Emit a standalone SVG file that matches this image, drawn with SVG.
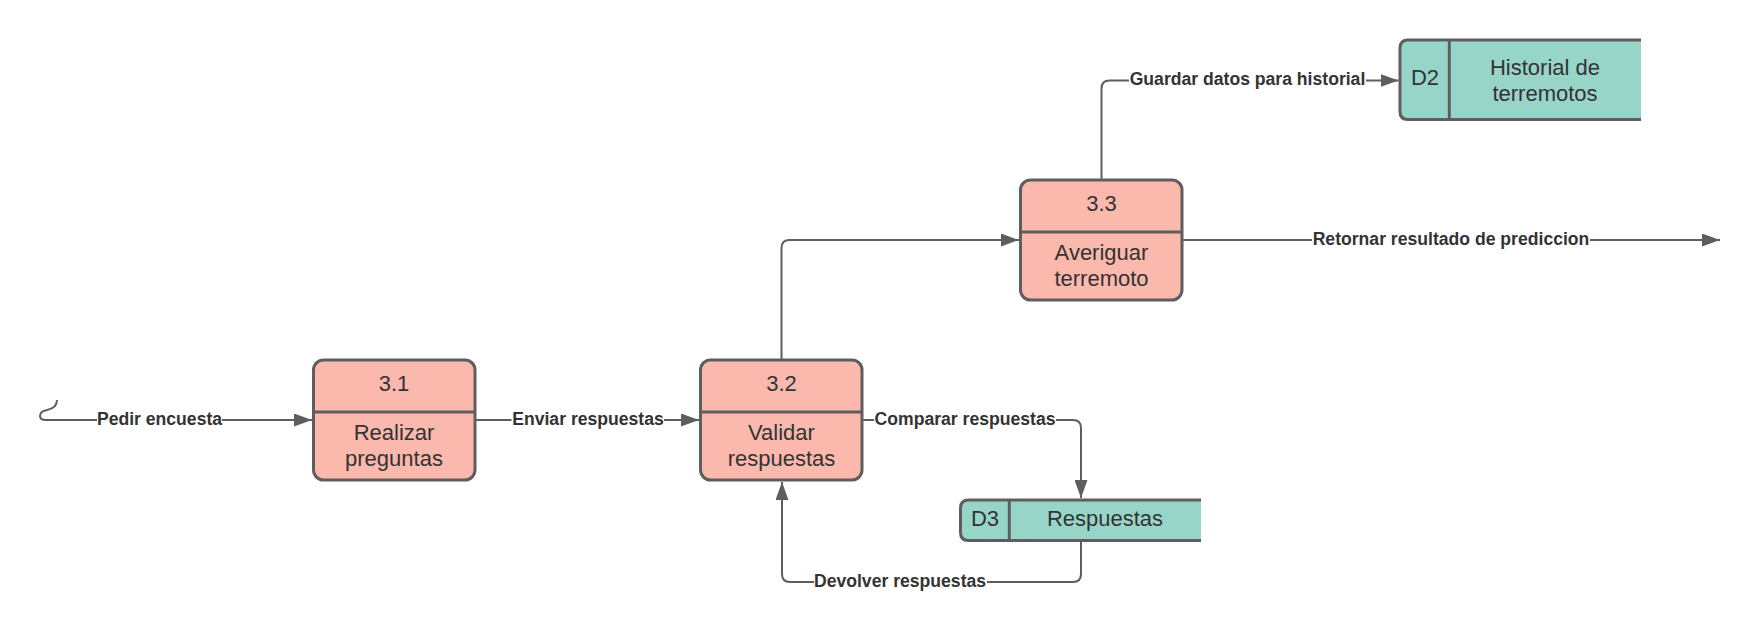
<svg xmlns="http://www.w3.org/2000/svg" width="1761" height="632" viewBox="0 0 1761 632">
<defs>
<marker id="arr" markerUnits="userSpaceOnUse" markerWidth="18" markerHeight="13" refX="18" refY="6.5" orient="auto">
<path d="M0,0 L18,6.5 L0,13 z" fill="#5e5e5e"/>
</marker>
<style>
.proc{fill:#fbb8ad;stroke:#5e5e5e;stroke-width:3}
.store{fill:#98d5c9}
.edge{fill:none;stroke:#5e5e5e;stroke-width:3}
.conn{fill:none;stroke:#5e5e5e;stroke-width:2}
.ntxt{font-family:"Liberation Sans",Arial,sans-serif;font-size:22px;fill:#333333;text-anchor:middle}
.lbl{font-family:"Liberation Sans",Arial,sans-serif;font-size:17.6px;font-weight:bold;fill:#333333;text-anchor:middle}
.lblbg{fill:#ffffff}
</style>
</defs>
<rect width="1761" height="632" fill="#ffffff"/>

<g id="connectors">
<path class="conn" d="M57,400 C57,407 52,409 47,410 C41,411 40,414 40,416 C40,419 43,420 46,420 L312,420" marker-end="url(#arr)"/>
<path class="conn" d="M475,420 L699,420" marker-end="url(#arr)"/>
<path class="conn" d="M862,420 L1073,420 Q1081,420 1081,428 L1081,498" marker-end="url(#arr)"/>
<path class="conn" d="M1081,541 L1081,574 Q1081,582 1073,582 L790,582 Q782,582 782,574 L782,482" marker-end="url(#arr)"/>
<path class="conn" d="M781.5,360 L781.5,248 Q781.5,240 789.5,240 L1019,240" marker-end="url(#arr)"/>
<path class="conn" d="M1101.5,180 L1101.5,88.5 Q1101.5,80.5 1109.5,80.5 L1398.5,80.5" marker-end="url(#arr)"/>
<path class="conn" d="M1183,240 L1720,240" marker-end="url(#arr)"/>
<rect class="lblbg" x="97" y="408" width="125" height="22"/>
<text class="lbl" x="159.5" y="424.5">Pedir encuesta</text>
<rect class="lblbg" x="511.5" y="408" width="152.5" height="22"/>
<text class="lbl" x="588" y="424.5">Enviar respuestas</text>
<rect class="lblbg" x="874" y="408" width="182" height="22"/>
<text class="lbl" x="965" y="424.5">Comparar respuestas</text>
<rect class="lblbg" x="814" y="570" width="173" height="22"/>
<text class="lbl" x="900" y="586.5">Devolver respuestas</text>
<rect class="lblbg" x="1129" y="69" width="237" height="22"/>
<text class="lbl" x="1247.5" y="85">Guardar datos para historial</text>
<rect class="lblbg" x="1312" y="228" width="278" height="22"/>
<text class="lbl" x="1451" y="244.5">Retornar resultado de prediccion</text>
</g>

<g id="p31">
<rect class="proc" x="313.5" y="360" width="161.5" height="120" rx="10"/>
<line class="edge" x1="313.5" y1="412" x2="475" y2="412"/>
<text class="ntxt" x="394" y="391">3.1</text>
<text class="ntxt" x="394" y="440">Realizar</text>
<text class="ntxt" x="394" y="466">preguntas</text>
</g>

<g id="p32">
<rect class="proc" x="700.5" y="360" width="161.5" height="120" rx="10"/>
<line class="edge" x1="700.5" y1="412" x2="862" y2="412"/>
<text class="ntxt" x="781.5" y="391">3.2</text>
<text class="ntxt" x="781.5" y="440">Validar</text>
<text class="ntxt" x="781.5" y="466">respuestas</text>
</g>

<g id="p33">
<rect class="proc" x="1020.5" y="180" width="161.5" height="120" rx="10"/>
<line class="edge" x1="1020.5" y1="232" x2="1182" y2="232"/>
<text class="ntxt" x="1101.5" y="211">3.3</text>
<text class="ntxt" x="1101.5" y="260">Averiguar</text>
<text class="ntxt" x="1101.5" y="286">terremoto</text>
</g>

<g id="d2">
<path class="store" d="M1408,40 L1641,40 L1641,119.5 L1408,119.5 Q1400,119.5 1400,111.5 L1400,48 Q1400,40 1408,40 z"/>
<path class="edge" d="M1641,40 L1408,40 Q1400,40 1400,48 L1400,111.5 Q1400,119.5 1408,119.5 L1641,119.5"/>
<line class="edge" x1="1449.3" y1="40" x2="1449.3" y2="119.5"/>
<text class="ntxt" x="1425" y="85">D2</text>
<text class="ntxt" x="1545" y="75">Historial de</text>
<text class="ntxt" x="1545" y="101">terremotos</text>
</g>

<g id="d3">
<path class="store" d="M968.5,500 L1201,500 L1201,540.5 L968.5,540.5 Q960.5,540.5 960.5,532.5 L960.5,508 Q960.5,500 968.5,500 z"/>
<path class="edge" d="M1201,500 L968.5,500 Q960.5,500 960.5,508 L960.5,532.5 Q960.5,540.5 968.5,540.5 L1201,540.5"/>
<line class="edge" x1="1009.3" y1="500" x2="1009.3" y2="540.5"/>
<text class="ntxt" x="985" y="526">D3</text>
<text class="ntxt" x="1105" y="526">Respuestas</text>
</g>
</svg>
